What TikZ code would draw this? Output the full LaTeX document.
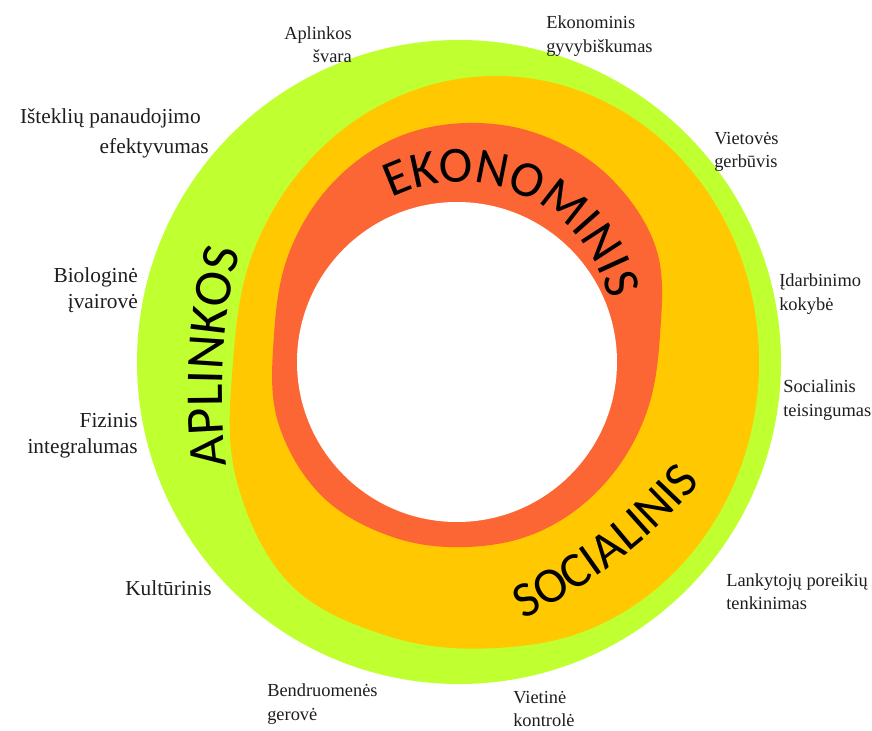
\documentclass[tikz,border=0pt]{standalone}
\usepackage{fontspec}
\setmainfont{Liberation Serif}
\newfontfamily\carl{Carlito}
\usetikzlibrary{decorations.text}
\definecolor{ringgreen}{RGB}{192,255,48}
\definecolor{ringyellow}{RGB}{255,200,0}
\definecolor{ringred}{RGB}{252,102,52}
\definecolor{labeltext}{RGB}{30,30,30}
\begin{document}
\begin{tikzpicture}[x=0.75pt,y=0.75pt,
  lbl/.style={text=labeltext, inner sep=0pt, font=\fontsize{13.8pt}{17.5pt}\selectfont},
  lblbig/.style={text=labeltext, inner sep=0pt, font=\fontsize{16pt}{19.5pt}\selectfont},
  lbll/.style={lbl, anchor=west, align=left},
  lblr/.style={lbl, anchor=east, align=right},
  lblbigr/.style={lblbig, anchor=east, align=right},
  ringtext/.style={decorate, decoration={text along path, text align=center, text color=black}}]
\useasboundingbox (0,0) rectangle (872,-731);
\fill[white] (0,0) rectangle (872,-731);

% outer green ring
\fill[ringgreen] (459,-362) circle (322);
% yellow ring
\fill[ringyellow] plot[smooth cycle, tension=0.62] coordinates {
 (759,-362) (739,-252.6) (682,-159.8) (596.6,-97.8) (496,-76) (395.4,-97.8)
 (310,-159.8) (253,-252.6) (233,-362) (236,-478) (290,-584) (391,-637)
 (496,-648) (596.6,-626.2) (682,-564.2) (739,-471.4)};
% red ring
\fill[ringred] plot[smooth cycle, tension=0.62] coordinates {
 (660,-335) (656.4,-249.3) (610.6,-178) (542.4,-135.4) (467,-123) (393.1,-139.1)
 (330.5,-185.1) (288.7,-253.9) (274,-335) (277.6,-420.7) (320.6,-494.8)
 (390.8,-536.4) (467,-547) (540.9,-530.9) (603.5,-484.9) (645.3,-416.1)};
% white centre
\fill[white] (457,-362) circle (160);

% ring titles
\path[ringtext, decoration={text={|\carl\fontsize{38pt}{38pt}\selectfont|EKONOMINIS}}]
  (460,-335) ++(165:153) arc[start angle=165, end angle=-35, radius=153];
\path[ringtext, decoration={text={|\carl\fontsize{40pt}{40pt}\selectfont|APLINKOS}}]
  (776,-390) ++(200:554) arc[start angle=200, end angle=153.2, radius=554];
\path[ringtext, decoration={text={|\carl\fontsize{37.5pt}{37.5pt}\selectfont|SOCIALINIS}}]
  (281,-122) ++(-77.3:553) arc[start angle=-77.3, end angle=-27.3, radius=553];

% labels
\node[lblr] (aplsvara) at (352,-45) {Aplinkos\\švara};
\node[lblbigr, font=\fontsize{16pt}{22.5pt}\selectfont] (istekliu) at (209,-133) {Išteklių panaudojimo\kern6pt\\efektyvumas};
\node[lbll] (ekgyv) at (546,-36) {Ekonominis\\gyvybiškumas};
\node[lbll] (vietgerb) at (714,-152) {Vietovės\\gerbūvis};
\node[lblbigr] (biol) at (138,-290) {Biologinė\\įvairovė};
\node[lblbigr] (fiz) at (138,-436) {Fizinis\\integralumas};
\node[lbll] (idarb) at (779,-294) {Įdarbinimo\\kokybė};
\node[lbll] (socteis) at (783,-400) {Socialinis\\teisingumas};
\node[lblbig, anchor=west] (kult) at (125,-588) {Kultūrinis};
\node[lbll] (bendr) at (267,-704) {Bendruomenės\\gerovė};
\node[lbll] (lank) at (726,-592) {Lankytojų poreikių\\tenkinimas};
\node[lbll] (vietk) at (513,-709) {Vietinė\\kontrolė};
\end{tikzpicture}
\end{document}
